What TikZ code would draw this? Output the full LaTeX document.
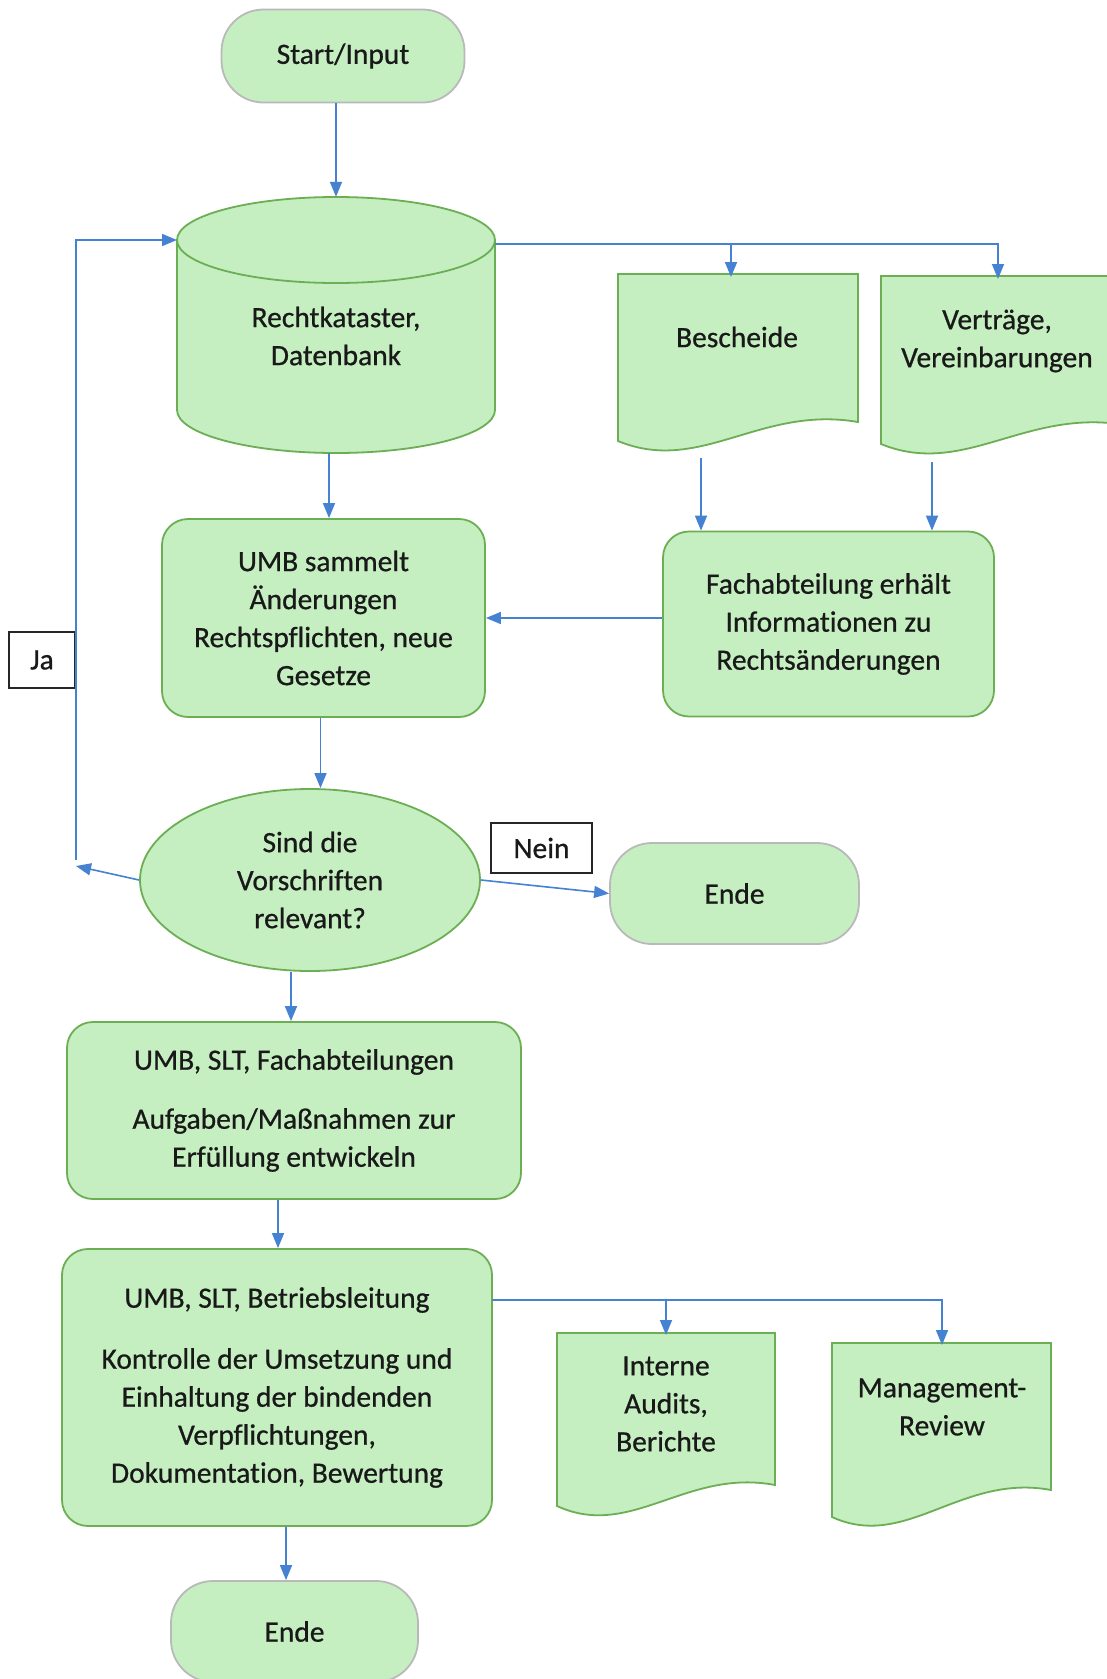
\documentclass[tikz,border=0pt]{standalone}
\usepackage{fontspec}
\setmainfont{Carlito}[Ligatures={NoCommon}, FakeBold=0.7]
\usetikzlibrary{arrows.meta,shapes.geometric,calc}
\definecolor{boxfill}{RGB}{198,239,193}
\definecolor{boxline}{RGB}{108,174,84}
\definecolor{termline}{RGB}{185,185,185}
\definecolor{conncol}{RGB}{70,130,210}
\definecolor{txt}{RGB}{25,25,25}
\begin{document}
\begin{tikzpicture}[x=1pt,y=1pt,
  every node/.style={font=\fontsize{29.5}{38}\selectfont, text=txt, align=center},
  shapefill/.style={draw=boxline, line width=1.8pt, fill=boxfill},
  shapeline/.style={draw=boxline, line width=1.8pt},
  proc/.style={draw=boxline, line width=1.8pt, fill=boxfill, rounded corners=26pt, inner sep=0pt},
  term/.style={draw=termline, line width=1.8pt, fill=boxfill, rounded corners=42pt, inner sep=0pt},
  decis/.style={ellipse, draw=boxline, line width=1.8pt, fill=boxfill, inner sep=0pt},
  labelbox/.style={draw=black!85, line width=1.5pt, fill=white, inner sep=0pt},
  plain/.style={inner sep=0pt},
  conn/.style={draw=conncol, line width=1.6pt},
  arr/.style={conn, -{Triangle[length=15pt,width=12pt]}}
]
\useasboundingbox (0,0) rectangle (1107,-1679);
\fill[white] (0,0) rectangle (1107,-1679);

% Start
\node[term, minimum width=243pt, minimum height=93pt] (start) at (343,-56) {Start/Input};

% Cylinder
\path[shapefill] (177,-240) -- (177,-410)
  arc[start angle=180,end angle=360,x radius=159pt,y radius=43pt]
  -- (495,-240)
  arc[start angle=0,end angle=180,x radius=159pt,y radius=43pt] -- cycle;
\draw[shapeline] (177,-240) arc[start angle=180,end angle=360,x radius=159pt,y radius=43pt];
\node[plain, minimum width=318pt, minimum height=256pt] (cyl) at (336,-325) {};
\node[plain] (cyltext) at (336,-336) {Rechtkataster,\\Datenbank};

% Documents top
\path[shapefill] (618,-274) -- (858,-274) -- (858,-422)
  .. controls (760,-405) and (700,-475) .. (618,-441) -- cycle;
\node[plain] (bes) at (737,-337) {Bescheide};
\path[shapefill] (881,-276) -- (1125,-276) -- (1125,-425)
  .. controls (1025,-408) and (964,-478) .. (881,-444) -- cycle;
\node[plain] (ver) at (997,-341) {Verträge,\\Vereinbarungen};

% Process boxes
\node[proc, minimum width=323pt, minimum height=198pt] (umb) at (323.5,-618)
  {UMB sammelt\\Änderungen\\Rechtspflichten, neue\\Gesetze};
\node[proc, minimum width=331pt, minimum height=185pt] (fach) at (828.5,-624)
  {Fachabteilung erhält\\Informationen zu\\Rechtsänderungen};

% Decision
\node[decis, minimum width=340pt, minimum height=182pt] (dec) at (310,-880)
  {Sind die\\Vorschriften\\relevant?};
\node[labelbox, minimum width=66pt, minimum height=56pt] (ja) at (42,-660) {Ja};
\node[labelbox, minimum width=101pt, minimum height=50pt] (nein) at (541.5,-848) {Nein};
\node[term, minimum width=249pt, minimum height=101pt] (ende1) at (734.5,-893.5) {Ende};

% Lower boxes
\node[proc, minimum width=454pt, minimum height=177pt] (b3) at (294,-1110.5)
  {UMB, SLT, Fachabteilungen\\[21pt]Aufgaben/Maßnahmen zur\\Erfüllung entwickeln};
\node[proc, minimum width=430pt, minimum height=277pt] (b4) at (277,-1387.5)
  {UMB, SLT, Betriebsleitung\\[23pt]Kontrolle der Umsetzung und\\Einhaltung der bindenden\\Verpflichtungen,\\Dokumentation, Bewertung};

% Documents bottom
\path[shapefill] (557,-1333) -- (775,-1333) -- (775,-1485)
  .. controls (686,-1468) and (631,-1540) .. (557,-1506) -- cycle;
\node[plain] (aud) at (666,-1404) {Interne\\Audits,\\Berichte};
\path[shapefill] (832,-1343) -- (1051,-1343) -- (1051,-1490)
  .. controls (961,-1473) and (906,-1551) .. (832,-1517) -- cycle;
\node[plain] (mgm) at (942,-1407) {Management-\\Review};

\node[term, minimum width=247pt, minimum height=101pt] (ende2) at (294.5,-1631.5) {Ende};

% Coordinates for connector ends
\coordinate (cylR) at (495,-244);
\coordinate (cylL) at (177,-240);
\coordinate (besN) at (731,-277);
\coordinate (verN) at (998,-279);
\coordinate (besS) at (701,-458);
\coordinate (verS) at (932,-462);
\coordinate (jaL) at (76,-866);
\coordinate (b4R) at (492,-1300);
\coordinate (audN) at (666,-1335);
\coordinate (mgmN) at (942,-1345);

% Connectors
\draw[arr] (start.south -| cyl.north) -- (cyl.north);
\draw[arr] (cylR) -| (verN);
\draw[arr] (cylR -| besN) -- (besN);
\draw[arr] (besS) -- (besS |- fach.north);
\draw[arr] (verS) -- (verS |- fach.north);
\draw[arr] (fach.west |- umb.east) -- (umb.east);
\draw[arr] ([xshift=-7pt]cyl.south) -- ([xshift=-7pt]cyl.south |- umb.north);
\draw[arr] ([xshift=-3pt]umb.south) -- ([xshift=-3pt]umb.south |- dec.north);
\draw[arr] (dec.west) -- (jaL);
\draw[arr] ([yshift=6pt]jaL) |- (cylL);
\draw[arr] (dec.east) -- (ende1.west);
\draw[arr] ([xshift=-19pt]dec.south) -- ([xshift=-19pt]dec.south |- b3.north);
\draw[arr] ([xshift=-16pt]b3.south) -- ([xshift=-16pt]b3.south |- b4.north);
\draw[arr] (b4R) -| (mgmN);
\draw[arr] (b4R -| audN) -- (audN);
\draw[arr] ([xshift=9pt]b4.south) -- ([xshift=9pt]b4.south |- ende2.north);
\end{tikzpicture}
\end{document}
